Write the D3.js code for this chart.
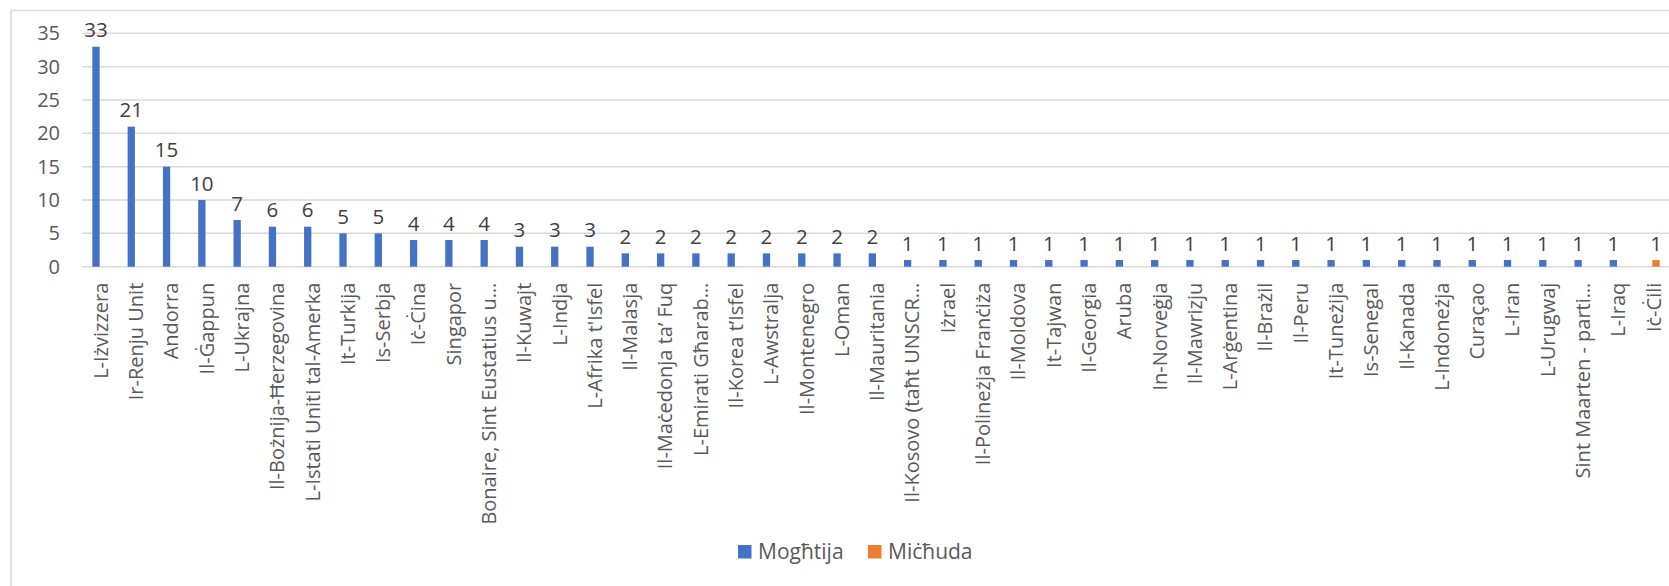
<!DOCTYPE html>
<html>
<head>
<meta charset="utf-8">
<script src="https://cdn.jsdelivr.net/npm/d3@7"></script>
<style>
    body { margin: 0; background: #fff; }
    svg { display: block; font-family: "Open Sans", sans-serif; }
</style>
</head>
<body>
<svg id="chart" width="1669" height="586"></svg>
<script>
// Countries, in the order of the chart
const categories = [
    "L-Iżvizzera", "Ir-Renju Unit", "Andorra", "Il-Ġappun", "L-Ukrajna",
    "Il-Bożnija-Ħerzegovina", "L-Istati Uniti tal-Amerka", "It-Turkija", "Is-Serbja", "Iċ-Ċina",
    "Singapor", "Bonaire, Sint Eustatius u…", "Il-Kuwajt", "L-Indja", "L-Afrika t'Isfel",
    "Il-Malasja", "Il-Maċedonja ta’ Fuq", "L-Emirati Għarab…", "Il-Korea t’Isfel", "L-Awstralja",
    "Il-Montenegro", "L-Oman", "Il-Mauritania", "Il-Kosovo (taħt UNSCR…", "Iżrael",
    "Il-Polineżja Franċiża", "Il-Moldova", "It-Tajwan", "Il-Georgia", "Aruba",
    "In-Norveġja", "Il-Mawrizju", "L-Arġentina", "Il-Brażil", "Il-Peru",
    "It-Tuneżija", "Is-Senegal", "Il-Kanada", "L-Indoneżja", "Curaçao",
    "L-Iran", "L-Urugwaj", "Sint Maarten - parti…", "L-Iraq", "Iċ-Ċili"
];

// Mogħtija (granted)
const granted = [
    33, 21, 15, 10, 7, 6, 6, 5, 5, 4, 4, 4, 3, 3, 3,
    2, 2, 2, 2, 2, 2, 2, 2,
    1, 1, 1, 1, 1, 1, 1, 1, 1, 1, 1, 1, 1, 1, 1, 1, 1, 1, 1, 1, 1,
    null
];

// Miċħuda (refused), only the last country has one
const refused = [
    null, null, null, null, null, null, null, null, null, null, null, null, null, null, null,
    null, null, null, null, null, null, null, null,
    null, null, null, null, null, null, null, null, null, null, null, null, null, null, null, null, null, null, null, null, null,
    1
];

const seriesNames = ["Mogħtija", "Miċħuda"];
const seriesColors = ["#4472C4", "#ED7D31"];
const yTicks = [0, 5, 10, 15, 20, 25, 30, 35];

const svg = d3.select("#chart");
const textColor = "#595959";
const gridColor = "#d9d9d9";

// chart frame (only top and left edges show inside the picture)
svg.append("path")
    .attr("d", "M11,586 V10.5 H1669")
    .attr("fill", "none")
    .attr("stroke", gridColor)
    .attr("stroke-width", 1.5);

const x = d3.scaleBand()
    .domain(categories)
    .range([82, 1670])
    .paddingInner(0.586)
    .paddingOuter(0.293);

const xInner = d3.scaleBand()
    .domain([0, 1])
    .range([0, x.bandwidth()]);

const y = d3.scaleLinear()
    .domain([0, 35])
    .range([266.7, 33.3]);

// Gridlines
svg.append("g")
    .selectAll("line")
    .data(yTicks)
    .join("line")
    .attr("x1", 82)
    .attr("x2", 1669)
    .attr("y1", d => y(d))
    .attr("y2", d => y(d))
    .attr("stroke", gridColor)
    .attr("stroke-width", 1.5);

// Y axis labels
const yAxis = svg.append("g")
    .attr("transform", "translate(60,0)")
    .call(d3.axisLeft(y).tickValues(yTicks).tickSize(0).tickPadding(0));
yAxis.select(".domain").remove();
yAxis.selectAll("text")
    .attr("fill", textColor)
    .style("font-size", "20px")
    .style("font-family", "Open Sans, sans-serif");

// X axis labels, rotated
const xAxis = svg.append("g")
    .attr("transform", `translate(0,${y(0)})`)
    .call(d3.axisBottom(x).tickSize(0));
xAxis.select(".domain").remove();
xAxis.selectAll("text")
    .attr("fill", textColor)
    .style("font-size", "20px")
    .style("font-family", "Open Sans, sans-serif")
    .attr("text-anchor", "end")
    .attr("dy", "0.36em")
    .attr("transform", "translate(1,16) rotate(-90)")
    .attr("x", 0)
    .attr("y", 0);

// Bars + value labels for each series
const series = [granted, refused];
series.forEach((values, si) => {
    const pts = categories.map((c, i) => ({ c: c, v: values[i] })).filter(d => d.v != null);
    const g = svg.append("g");
    g.selectAll("rect")
        .data(pts)
        .join("rect")
        .attr("x", d => x(d.c) + xInner(si))
        .attr("width", xInner.bandwidth())
        .attr("y", d => y(d.v))
        .attr("height", d => y(0) - y(d.v))
        .attr("fill", seriesColors[si]);
    g.selectAll("text")
        .data(pts)
        .join("text")
        .attr("x", d => x(d.c) + xInner(si) + xInner.bandwidth() / 2)
        .attr("y", d => y(d.v) - 9.5)
        .attr("text-anchor", "middle")
        .attr("fill", "#404040")
        .style("font-size", "20.5px")
        .text(d => d.v);
});

// Legend
const legend = svg.append("g").attr("transform", "translate(738,552)");
const legendX = [0, 130];
seriesNames.forEach((name, i) => {
    const item = legend.append("g").attr("transform", `translate(${legendX[i]},0)`);
    item.append("rect")
        .attr("x", 0)
        .attr("y", -7)
        .attr("width", 13.5)
        .attr("height", 13.5)
        .attr("fill", seriesColors[i]);
    item.append("text")
        .attr("x", 20)
        .attr("y", 0)
        .attr("dy", "0.35em")
        .attr("fill", textColor)
        .style("font-size", "21px")
        .text(name);
});
</script>
</body>
</html>
